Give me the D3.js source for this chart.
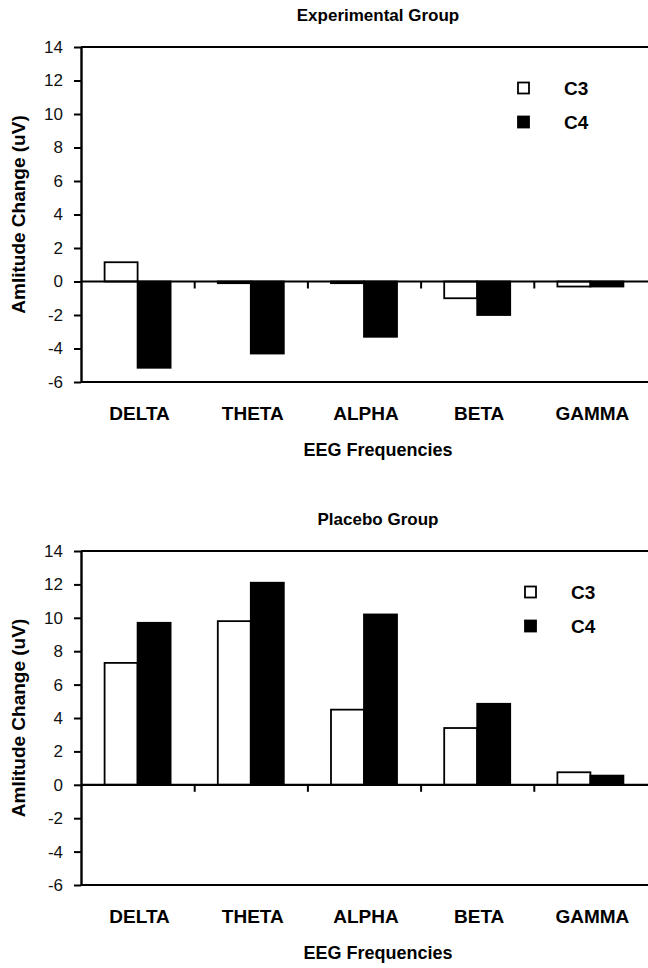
<!DOCTYPE html>
<html><head><meta charset="utf-8">
<script src="https://cdn.jsdelivr.net/npm/d3@7"></script>
<style>body{margin:0;background:#fff} svg{display:block}</style>
</head><body>
<script>
const categories = ["DELTA","THETA","ALPHA","BETA","GAMMA"];
const seriesNames = ["C3","C4"];
const experimentalC3 = [1.15,-0.1,-0.1,-1.0,-0.3];
const experimentalC4 = [-5.15,-4.3,-3.3,-2.0,-0.3];
const placeboC3 = [7.3,9.8,4.5,3.4,0.75];
const placeboC4 = [9.7,12.1,10.2,4.85,0.55];
const yTicks = [-6,-4,-2,0,2,4,6,8,10,12,14];
const titles = ["Experimental Group","Placebo Group"];
const yLabel = "Amlitude Change (uV)";
const xLabel = "EEG Frequencies";

const W = 648, H = 968;
const font = "'Liberation Sans', Arial, Helvetica, sans-serif";
const svg = d3.select("body").append("svg").attr("width", W).attr("height", H)
  .style("font-family", font);

const layouts = [
  {top:47, bottom:382, legendX:518, legendY:88, titleY:21},
  {top:551, bottom:885, legendX:525, legendY:592, titleY:525}
];
const dataSets = [[experimentalC3, experimentalC4],[placeboC3, placeboC4]];
const left = 81, right = 647;
const fills = {C3:"#fff", C4:"#000"};

layouts.forEach((L, pi) => {
  const g = svg.append("g");
  const y = d3.scaleLinear().domain([-6,14]).range([L.bottom, L.top]);
  const x0 = d3.scaleBand().domain(categories).range([left, right]).padding(0);
  const x1 = d3.scaleBand().domain(seriesNames).range([0, x0.bandwidth()]).paddingInner(0).paddingOuter(0.715);
  const rows = categories.map((c,i) => ({cat:c, C3:dataSets[pi][0][i], C4:dataSets[pi][1][i]}));

  rows.forEach(r => {
    seriesNames.forEach(s => {
      const v = r[s];
      g.append("rect")
        .attr("x", x0(r.cat) + x1(s))
        .attr("y", y(Math.max(0, v)))
        .attr("width", x1.bandwidth())
        .attr("height", Math.abs(y(v) - y(0)))
        .attr("fill", fills[s]).attr("stroke", "#000").attr("stroke-width", 1.8);
    });
  });

  [14, -6].forEach(v => {
    g.append("line").attr("x1", left).attr("x2", W).attr("y1", y(v)).attr("y2", y(v))
      .attr("stroke", "#000").attr("stroke-width", 2.2);
  });
  const xb = d3.scaleLinear().domain([0, categories.length]).range([left, right]);
  const zeroAxis = d3.axisBottom(xb).tickValues([1,2,3,4]).tickSize(7).tickSizeOuter(0).tickFormat("");
  const za = g.append("g").attr("transform", `translate(0,${y(0)})`).call(zeroAxis);
  za.select(".domain").attr("stroke-width", 2.2).attr("d", `M${left},0H${W}`);
  za.selectAll(".tick line").attr("stroke-width", 2);

  const ya = g.append("g").attr("transform", `translate(${left},0)`)
    .call(d3.axisLeft(y).tickValues(yTicks).tickSize(7).tickSizeOuter(0).tickPadding(11)
      .tickFormat(d => String(d)));
  ya.attr("font-size", null).attr("font-family", null);
  ya.select(".domain").attr("stroke-width", 2.4);
  ya.selectAll(".tick line").attr("stroke-width", 2);
  ya.selectAll(".tick text").attr("font-size", 17).attr("fill", "#111");

  g.selectAll(".cat").data(categories).enter().append("text")
    .attr("x", d => x0(d) + x0.bandwidth()/2 + 2)
    .attr("y", L.bottom + 38)
    .attr("text-anchor", "middle").attr("font-size", 19).attr("font-weight", "bold")
    .text(d => d);

  g.append("text").attr("x", 378).attr("y", L.bottom + 74)
    .attr("text-anchor", "middle").attr("font-size", 18).attr("font-weight", "bold").text(xLabel);

  g.append("text").attr("x", 378).attr("y", L.titleY)
    .attr("text-anchor", "middle").attr("font-size", 17).attr("font-weight", "bold").text(titles[pi]);

  g.append("text").attr("transform", `translate(25,${(L.top+L.bottom)/2}) rotate(-90)`)
    .attr("text-anchor", "middle").attr("font-size", 19).attr("font-weight", "bold").text(yLabel);

  seriesNames.forEach((s, i) => {
    const cy = L.legendY + i*34;
    g.append("rect").attr("x", L.legendX).attr("y", cy - 5.5).attr("width", 11).attr("height", 11)
      .attr("fill", fills[s]).attr("stroke", "#000").attr("stroke-width", 1.8);
    g.append("text").attr("x", L.legendX + 46).attr("y", cy + 6.5)
      .attr("font-size", 19).attr("font-weight", "bold").text(s);
  });
});
</script>
</body></html>
